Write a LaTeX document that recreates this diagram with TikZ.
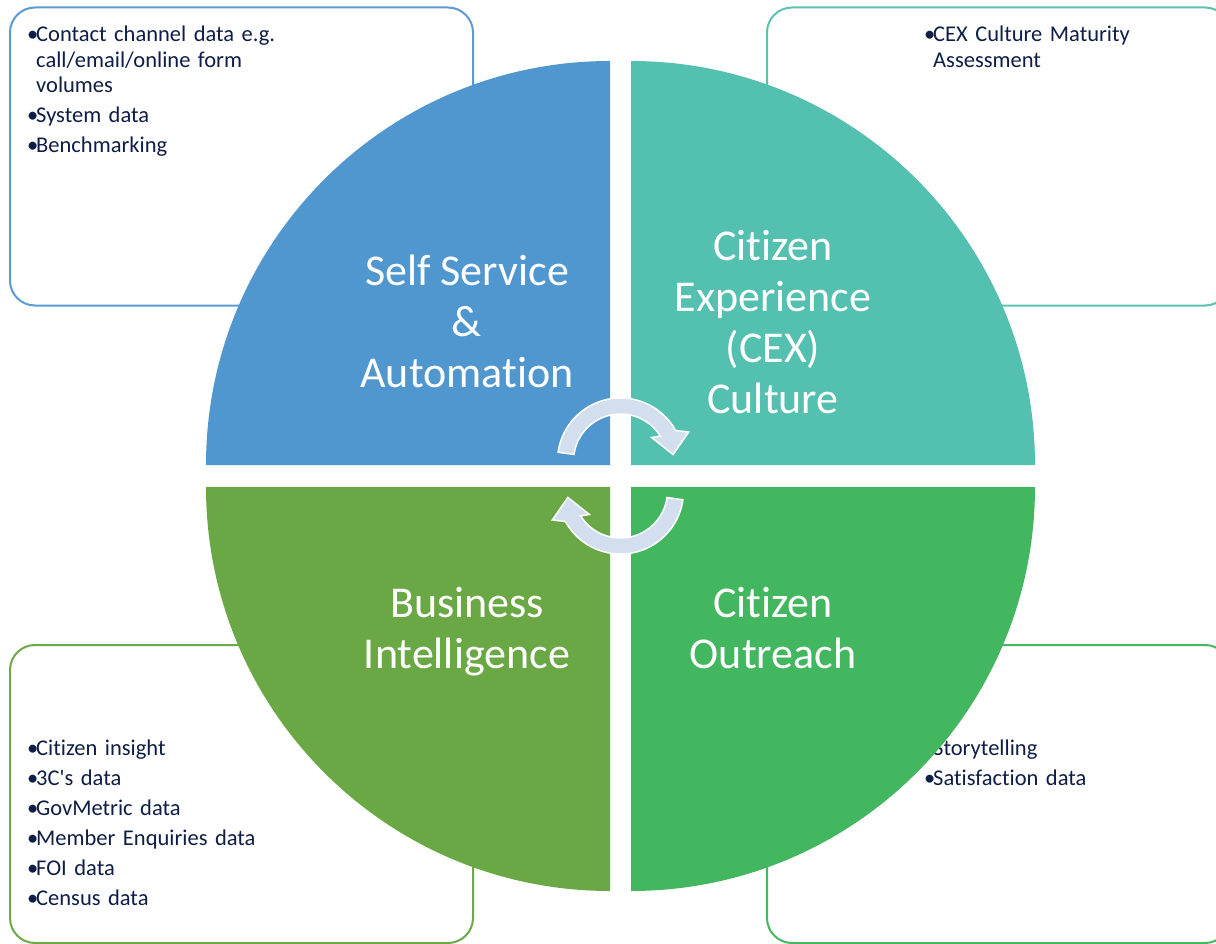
\documentclass[tikz,border=0pt]{standalone}
\usepackage{fontspec}
\setmainfont{Carlito}[Ligatures=CommonOff]
\usetikzlibrary{positioning}

\definecolor{ssfill}{HTML}{5097D0}
\definecolor{cexfill}{HTML}{53C0B0}
\definecolor{bifill}{HTML}{6AA845}
\definecolor{cofill}{HTML}{43B75F}
\definecolor{ssline}{HTML}{5B9BD5}
\definecolor{cexline}{HTML}{5AC2B2}
\definecolor{biline}{HTML}{6DAA47}
\definecolor{coline}{HTML}{47B862}
\definecolor{itemnavy}{HTML}{0F1E46}
\definecolor{turnfill}{HTML}{D3DFEE}

\newcommand{\bul}{\makebox[9pt][l]{•}}
\newcommand{\ind}{\hspace*{9pt}}
\frenchspacing

\begin{document}
\begin{tikzpicture}[x=1pt,y=-1pt]
  \tikzstyle{box}=[draw, fill=white, line width=2pt, rounded corners=25pt, minimum width=463pt, minimum height=298pt]
  \tikzstyle{items}=[text=itemnavy, font=\fontsize{22.5}{25.5}\selectfont, text width=320pt, align=left, inner sep=0pt, anchor=base west]
  \tikzstyle{quad}=[text=white, font=\fontsize{44}{51}\selectfont, align=center, inner sep=0pt]
  \tikzstyle{turn}=[fill=turnfill, draw=white, line width=1.5pt]

  \useasboundingbox (0,0) rectangle (1216,944);
  \clip (0,0) rectangle (1216,944);

  \node[box, draw=ssline] (B1) at (241.5,156.5) {};
  \node[box, draw=cexline] (B2) at (998.5,156.5) {};
  \node[box, draw=biline] (B3) at (241.5,794) {};
  \node[box, draw=coline] (B4) at (998.5,794) {};

  \node[items] (T1) at ([xshift=18pt, yshift=-35.5pt]B1.north west) {\bul Contact channel data e.g.\\ \ind call/email/online form\\ \ind volumes\\[4.5pt] \bul System data\\[4.5pt] \bul Benchmarking};
  \node[items] (T2) at ([xshift=158pt, yshift=-35.5pt]B2.north west) {\bul CEX Culture Maturity\\ \ind Assessment};
  \node[items] (T3) at ([xshift=18pt, yshift=-111pt]B3.north west) {\bul Citizen insight\\[4.5pt] \bul 3C\textquotesingle s data\\[4.5pt] \bul GovMetric data\\[4.5pt] \bul Member Enquiries data\\[4.5pt] \bul FOI data\\[4.5pt] \bul Census data};
  \node[items] (T4) at ([xshift=158pt, yshift=-111pt]B4.north west) {\bul Storytelling\\[4.5pt] \bul Satisfaction data};

  \fill[ssfill] (610,465) -- (206,465) arc[start angle=180, end angle=270, radius=404] -- cycle;
  \fill[cexfill] (631,465) -- (631,61) arc[start angle=270, end angle=360, radius=404] -- cycle;
  \fill[cofill] (631,487) -- (1035,487) arc[start angle=0, end angle=90, radius=404] -- cycle;
  \fill[bifill] (610,487) -- (610,891) arc[start angle=90, end angle=180, radius=404] -- cycle;

  \node[quad] (SS) at (467,321) {Self Service\\\&\\Automation};
  \node[quad] (CEX) at (773,322) {Citizen\\Experience\\(CEX)\\Culture};
  \node[quad] (BI) at (467,632) {Business\\Intelligence};
  \node[quad] (CO) at (773,628) {Citizen\\Outreach};

  \begin{scope}[shift={(620.5,461)}]
    \draw[turn] (188:63) arc[start angle=188, end angle=331, radius=63] -- (337:74) -- (353:53) -- (323:39) -- (328:47) arc[start angle=328, end angle=188, radius=47] -- cycle;
  \end{scope}
  \begin{scope}[shift={(620.5,491)}, rotate=180]
    \draw[turn] (188:63) arc[start angle=188, end angle=331, radius=63] -- (337:74) -- (353:53) -- (323:39) -- (328:47) arc[start angle=328, end angle=188, radius=47] -- cycle;
  \end{scope}
\end{tikzpicture}
\end{document}
